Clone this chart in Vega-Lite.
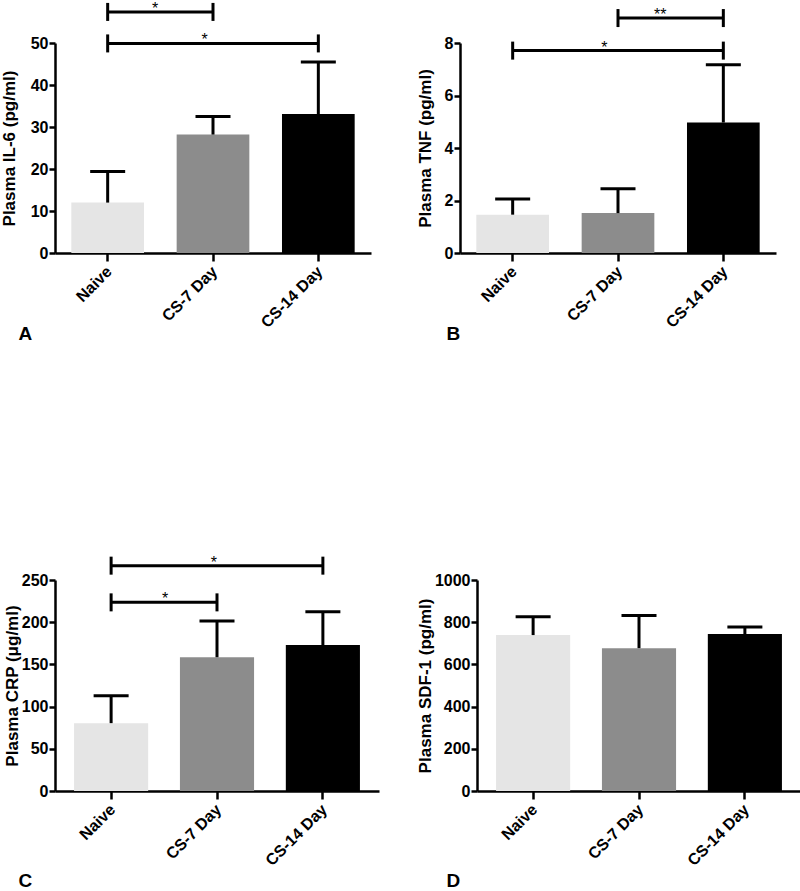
{
  "$schema": "https://vega.github.io/schema/vega-lite/v6.json",
  "padding": {"left": 0, "top": 0, "right": 0, "bottom": 0},
  "background": "white",
  "config": {
    "font": "Liberation Sans",
    "view": {"stroke": null},
    "bar": {"opacity": 1},
    "tick": {"opacity": 1},
    "axis": {
      "grid": false,
      "domainColor": "black", "domainWidth": 2.5,
      "tickColor": "black", "tickWidth": 2.5,
      "labelColor": "black", "labelFont": "Liberation Sans", "labelFontWeight": "bold", "labelFontSize": 16,
      "titleColor": "black", "titleFont": "Liberation Sans", "titleFontWeight": "bold", "titleFontSize": 17
    },
    "axisY": {"tickSize": 6, "labelPadding": 1},
    "axisX": {"tickSize": 8, "labelAngle": -45, "labelFontSize": 16, "labelPadding": 2, "labelOffset": -4}
  },
  "datasets": {
    "il6": [
      {"group": "Naive", "mean": 12.0, "upper": 19.4},
      {"group": "CS-7 Day", "mean": 28.2, "upper": 32.5},
      {"group": "CS-14 Day", "mean": 33.1, "upper": 45.5}
    ],
    "il6_sig": [
      {"from": 0, "to": 1, "y": 57.4, "mid": 0.45, "label": "*"},
      {"from": 0, "to": 2, "y": 49.9, "mid": 0.92, "label": "*"}
    ],
    "tnf": [
      {"group": "Naive", "mean": 1.46, "upper": 2.06},
      {"group": "CS-7 Day", "mean": 1.52, "upper": 2.45},
      {"group": "CS-14 Day", "mean": 4.97, "upper": 7.17}
    ],
    "tnf_sig": [
      {"from": 1, "to": 2, "y": 8.95, "mid": 1.4, "label": "**"},
      {"from": 0, "to": 2, "y": 7.71, "mid": 0.87, "label": "*"}
    ],
    "crp": [
      {"group": "Naive", "mean": 80.4, "upper": 112.8},
      {"group": "CS-7 Day", "mean": 158.5, "upper": 201.5},
      {"group": "CS-14 Day", "mean": 173, "upper": 212.5}
    ],
    "crp_sig": [
      {"from": 0, "to": 2, "y": 267, "mid": 0.97, "label": "*"},
      {"from": 0, "to": 1, "y": 223.5, "mid": 0.51, "label": "*"}
    ],
    "sdf": [
      {"group": "Naive", "mean": 739, "upper": 826},
      {"group": "CS-7 Day", "mean": 677, "upper": 832},
      {"group": "CS-14 Day", "mean": 744, "upper": 777}
    ]
  },
  "bounds": "flush",
  "spacing": 537,
  "vconcat": [
    {
      "bounds": "flush",
      "spacing": 89,
      "hconcat": [
        {
          "width": 316, "height": 210,
          "resolve": {"scale": {"x": "independent"}},
          "layer": [
            {
              "data": {"name": "il6"},
              "encoding": {
                "x": {"field": "group", "type": "nominal", "sort": null,
                  "scale": {"domain": ["Naive", "CS-7 Day", "CS-14 Day"], "paddingInner": 0.31, "paddingOuter": 0.155},
                  "axis": {"title": "A", "titleX": -37, "titleY": 86, "titleAlign": "left", "titleBaseline": "alphabetic", "titleAngle": 0, "titleFontSize": 19}},
                "y": {"field": "mean", "type": "quantitative", "scale": {"domain": [0, 50], "nice": false, "zero": true},
                  "axis": {"values": [0, 10, 20, 30, 40, 50], "title": "Plasma IL-6 (pg/ml)", "titlePadding": 12}}
              },
              "layer": [
                {"mark": {"type": "bar"},
                 "encoding": {"color": {"field": "group", "type": "nominal", "scale": {"domain": ["Naive", "CS-7 Day", "CS-14 Day"], "range": ["#e5e5e5", "#8c8c8c", "#000000"]}, "legend": null}}},
                {"mark": {"type": "rule", "strokeWidth": 3, "color": "black"},
                 "encoding": {"y2": {"field": "upper"}}},
                {"mark": {"type": "tick", "orient": "horizontal", "size": 35, "thickness": 3, "color": "black"},
                 "encoding": {"y": {"field": "upper", "type": "quantitative", "scale": {"domain": [0, 50], "nice": false, "zero": true},
                  "axis": {"values": [0, 10, 20, 30, 40, 50], "title": "Plasma IL-6 (pg/ml)", "titlePadding": 12}}}}
              ]
            },
            {
              "data": {"name": "il6_sig"},
              "encoding": {
                "y": {"field": "y", "type": "quantitative", "scale": {"domain": [0, 50], "nice": false, "zero": true},
                  "axis": {"values": [0, 10, 20, 30, 40, 50], "title": "Plasma IL-6 (pg/ml)", "titlePadding": 12}}
              },
              "layer": [
                {"mark": {"type": "rule", "strokeWidth": 3, "color": "black"},
                 "encoding": {"x": {"field": "from", "type": "quantitative", "scale": {"domain": [-0.5, 2.5], "nice": false, "zero": false}, "axis": null},
                              "x2": {"field": "to"}}},
                {"transform": [{"fold": ["from", "to"], "as": ["end", "pos"]}],
                 "mark": {"type": "tick", "orient": "vertical", "size": 18, "thickness": 3, "color": "black"},
                 "encoding": {"x": {"field": "pos", "type": "quantitative", "scale": {"domain": [-0.5, 2.5], "nice": false, "zero": false}, "axis": null}}},
                {"mark": {"type": "text", "fontSize": 16, "font": "Liberation Sans", "baseline": "alphabetic", "align": "center", "dy": 2, "color": "black"},
                 "encoding": {"x": {"field": "mid", "type": "quantitative", "scale": {"domain": [-0.5, 2.5], "nice": false, "zero": false}, "axis": null},
                              "text": {"field": "label"}}}
              ]
            }
          ]
        },
        {
          "width": 316, "height": 210,
          "resolve": {"scale": {"x": "independent"}},
          "layer": [
            {
              "data": {"name": "tnf"},
              "encoding": {
                "x": {"field": "group", "type": "nominal", "sort": null,
                  "scale": {"domain": ["Naive", "CS-7 Day", "CS-14 Day"], "paddingInner": 0.31, "paddingOuter": 0.155},
                  "axis": {"title": "B", "titleX": -14, "titleY": 86, "titleAlign": "left", "titleBaseline": "alphabetic", "titleAngle": 0, "titleFontSize": 19}},
                "y": {"field": "mean", "type": "quantitative", "scale": {"domain": [0, 8], "nice": false, "zero": true},
                  "axis": {"values": [0, 2, 4, 6, 8], "title": "Plasma TNF (pg/ml)", "titlePadding": 10}}
              },
              "layer": [
                {"mark": {"type": "bar"},
                 "encoding": {"color": {"field": "group", "type": "nominal", "scale": {"domain": ["Naive", "CS-7 Day", "CS-14 Day"], "range": ["#e5e5e5", "#8c8c8c", "#000000"]}, "legend": null}}},
                {"mark": {"type": "rule", "strokeWidth": 3, "color": "black"},
                 "encoding": {"y2": {"field": "upper"}}},
                {"mark": {"type": "tick", "orient": "horizontal", "size": 35, "thickness": 3, "color": "black"},
                 "encoding": {"y": {"field": "upper", "type": "quantitative", "scale": {"domain": [0, 8], "nice": false, "zero": true},
                  "axis": {"values": [0, 2, 4, 6, 8], "title": "Plasma TNF (pg/ml)", "titlePadding": 10}}}}
              ]
            },
            {
              "data": {"name": "tnf_sig"},
              "encoding": {
                "y": {"field": "y", "type": "quantitative", "scale": {"domain": [0, 8], "nice": false, "zero": true},
                  "axis": {"values": [0, 2, 4, 6, 8], "title": "Plasma TNF (pg/ml)", "titlePadding": 10}}
              },
              "layer": [
                {"mark": {"type": "rule", "strokeWidth": 3, "color": "black"},
                 "encoding": {"x": {"field": "from", "type": "quantitative", "scale": {"domain": [-0.5, 2.5], "nice": false, "zero": false}, "axis": null},
                              "x2": {"field": "to"}}},
                {"transform": [{"fold": ["from", "to"], "as": ["end", "pos"]}],
                 "mark": {"type": "tick", "orient": "vertical", "size": 18, "thickness": 3, "color": "black"},
                 "encoding": {"x": {"field": "pos", "type": "quantitative", "scale": {"domain": [-0.5, 2.5], "nice": false, "zero": false}, "axis": null}}},
                {"mark": {"type": "text", "fontSize": 16, "font": "Liberation Sans", "baseline": "alphabetic", "align": "center", "dy": 2, "color": "black"},
                 "encoding": {"x": {"field": "mid", "type": "quantitative", "scale": {"domain": [-0.5, 2.5], "nice": false, "zero": false}, "axis": null},
                              "text": {"field": "label"}}}
              ]
            }
          ]
        }
      ]
    },
    {
      "bounds": "flush",
      "spacing": 98,
      "hconcat": [
        {
          "width": 324, "height": 211,
          "resolve": {"scale": {"x": "independent"}},
          "layer": [
            {
              "data": {"name": "crp"},
              "encoding": {
                "x": {"field": "group", "type": "nominal", "sort": null,
                  "scale": {"domain": ["Naive", "CS-7 Day", "CS-14 Day"], "paddingInner": 0.3, "paddingOuter": 0.18},
                  "axis": {"title": "C", "titleX": -37, "titleY": 95, "titleAlign": "left", "titleBaseline": "alphabetic", "titleAngle": 0, "titleFontSize": 19}},
                "y": {"field": "mean", "type": "quantitative", "scale": {"domain": [0, 250], "nice": false, "zero": true},
                  "axis": {"values": [0, 50, 100, 150, 200, 250], "title": "Plasma CRP (μg/ml)", "titlePadding": 0}}
              },
              "layer": [
                {"mark": {"type": "bar"},
                 "encoding": {"color": {"field": "group", "type": "nominal", "scale": {"domain": ["Naive", "CS-7 Day", "CS-14 Day"], "range": ["#e5e5e5", "#8c8c8c", "#000000"]}, "legend": null}}},
                {"mark": {"type": "rule", "strokeWidth": 3, "color": "black"},
                 "encoding": {"y2": {"field": "upper"}}},
                {"mark": {"type": "tick", "orient": "horizontal", "size": 35, "thickness": 3, "color": "black"},
                 "encoding": {"y": {"field": "upper", "type": "quantitative", "scale": {"domain": [0, 250], "nice": false, "zero": true},
                  "axis": {"values": [0, 50, 100, 150, 200, 250], "title": "Plasma CRP (μg/ml)", "titlePadding": 0}}}}
              ]
            },
            {
              "data": {"name": "crp_sig"},
              "encoding": {
                "y": {"field": "y", "type": "quantitative", "scale": {"domain": [0, 250], "nice": false, "zero": true},
                  "axis": {"values": [0, 50, 100, 150, 200, 250], "title": "Plasma CRP (μg/ml)", "titlePadding": 0}}
              },
              "layer": [
                {"mark": {"type": "rule", "strokeWidth": 3, "color": "black"},
                 "encoding": {"x": {"field": "from", "type": "quantitative", "scale": {"domain": [-0.53, 2.53], "nice": false, "zero": false}, "axis": null},
                              "x2": {"field": "to"}}},
                {"transform": [{"fold": ["from", "to"], "as": ["end", "pos"]}],
                 "mark": {"type": "tick", "orient": "vertical", "size": 18, "thickness": 3, "color": "black"},
                 "encoding": {"x": {"field": "pos", "type": "quantitative", "scale": {"domain": [-0.53, 2.53], "nice": false, "zero": false}, "axis": null}}},
                {"mark": {"type": "text", "fontSize": 16, "font": "Liberation Sans", "baseline": "alphabetic", "align": "center", "dy": 2, "color": "black"},
                 "encoding": {"x": {"field": "mid", "type": "quantitative", "scale": {"domain": [-0.53, 2.53], "nice": false, "zero": false}, "axis": null},
                              "text": {"field": "label"}}}
              ]
            }
          ]
        },
        {
          "width": 324, "height": 211,
          "data": {"name": "sdf"},
          "encoding": {
            "x": {"field": "group", "type": "nominal", "sort": null,
              "scale": {"domain": ["Naive", "CS-7 Day", "CS-14 Day"], "paddingInner": 0.3, "paddingOuter": 0.18},
              "axis": {"title": "D", "titleX": -31, "titleY": 95, "titleAlign": "left", "titleBaseline": "alphabetic", "titleAngle": 0, "titleFontSize": 19}},
            "y": {"field": "mean", "type": "quantitative", "scale": {"domain": [0, 1000], "nice": false, "zero": true},
              "axis": {"values": [0, 200, 400, 600, 800, 1000], "format": "d", "title": "Plasma SDF-1 (pg/ml)", "titlePadding": 0}}
          },
          "layer": [
            {"mark": {"type": "bar"},
             "encoding": {"color": {"field": "group", "type": "nominal", "scale": {"domain": ["Naive", "CS-7 Day", "CS-14 Day"], "range": ["#e5e5e5", "#8c8c8c", "#000000"]}, "legend": null}}},
            {"mark": {"type": "rule", "strokeWidth": 3, "color": "black"},
             "encoding": {"y2": {"field": "upper"}}},
            {"mark": {"type": "tick", "orient": "horizontal", "size": 35, "thickness": 3, "color": "black"},
             "encoding": {"y": {"field": "upper", "type": "quantitative", "scale": {"domain": [0, 1000], "nice": false, "zero": true},
              "axis": {"values": [0, 200, 400, 600, 800, 1000], "format": "d", "title": "Plasma SDF-1 (pg/ml)", "titlePadding": 0}}}}
          ]
        }
      ]
    }
  ]
}
